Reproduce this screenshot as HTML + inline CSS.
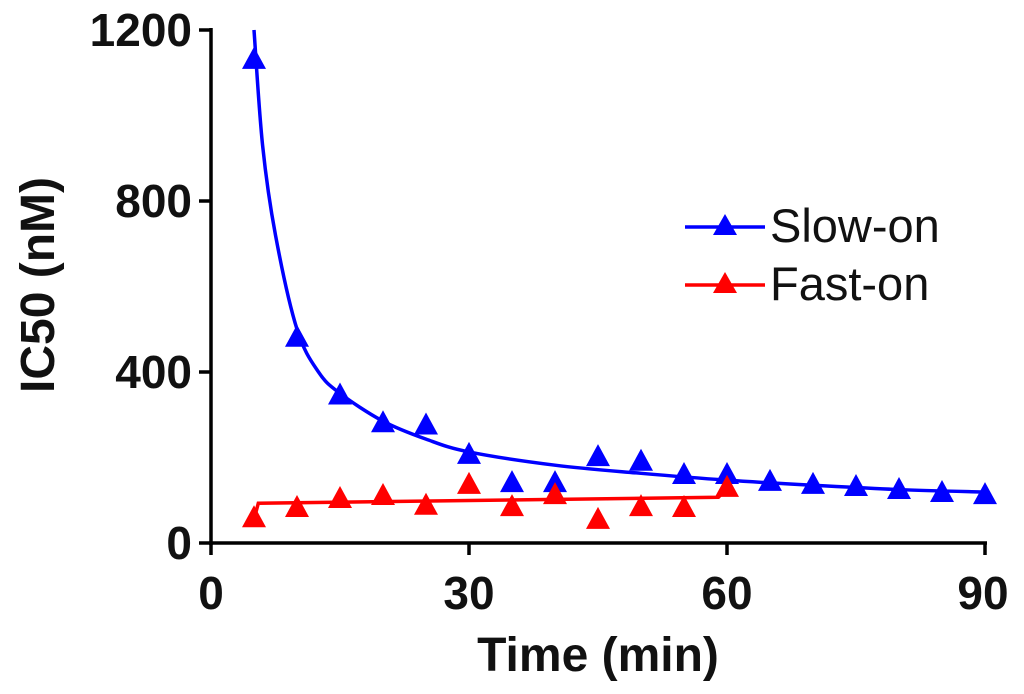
<!DOCTYPE html>
<html><head><meta charset="utf-8"><style>
html,body{margin:0;padding:0;background:#fff;}
svg text{font-family:"Liberation Sans",Arial,sans-serif;}
</style></head><body>
<svg id="s" width="1024" height="689" viewBox="0 0 1024 689" xmlns="http://www.w3.org/2000/svg">
<g stroke="#000" stroke-width="3.5" fill="none">
<line x1="211" y1="28" x2="211" y2="545"/>
<line x1="209" y1="543" x2="987" y2="543"/>
<line x1="199" y1="30" x2="211" y2="30"/>
<line x1="199" y1="201" x2="211" y2="201"/>
<line x1="199" y1="372" x2="211" y2="372"/>
<line x1="199" y1="543" x2="211" y2="543"/>
<line x1="211" y1="543" x2="211" y2="555"/>
<line x1="469" y1="543" x2="469" y2="555"/>
<line x1="727" y1="543" x2="727" y2="555"/>
<line x1="985" y1="543" x2="985" y2="555"/>
</g>
<g font-size="46" font-weight="bold" text-anchor="end" fill="#111">
<text x="192" y="46">1200</text>
<text x="192" y="217">800</text>
<text x="192" y="388">400</text>
<text x="192" y="559">0</text>
</g>
<g font-size="46" font-weight="bold" text-anchor="middle" fill="#111">
<text x="211" y="609">0</text>
<text x="469" y="609">30</text>
<text x="727" y="609">60</text>
<text x="983" y="609">90</text>
<text x="598" y="671" font-size="48">Time (min)</text>
<text transform="translate(54,285) rotate(-90)" font-size="48">IC50 (nM)</text>
</g>
<g id="d"></g>
<line x1="685" y1="227" x2="765" y2="227" stroke="#0000ff" stroke-width="3.5"/>
<polygon points="725,214 737,235 713,235" fill="#0000ff"/>
<text x="770" y="242" font-size="47" fill="#111">Slow-on</text>
<line x1="685" y1="285" x2="765" y2="285" stroke="#ff0000" stroke-width="3.5"/>
<polygon points="725,272 737,293 713,293" fill="#ff0000"/>
<text x="770" y="300" font-size="47" fill="#111">Fast-on</text>
</svg>
<script>
var X=t=>211+t*8.6, Y=v=>543-v*0.4275;
var g=document.getElementById('d'), ns='http://www.w3.org/2000/svg';
function el(n,a){var e=document.createElementNS(ns,n);for(var k in a)e.setAttribute(k,a[k]);g.appendChild(e);}
var k=[[5,1200],[6,930],[7.5,720],[10,500],[12.5,400],[15,350],[20,285],[25,243],[30,213],[40,182],[50,163],[60,147],[70,135],[80,125],[90,119]];
var p=k.map(a=>[X(a[0]),Y(a[1])]);
var d='M'+p[0][0]+','+p[0][1];
for(var i=0;i<p.length-1;i++){var p0=p[Math.max(0,i-1)],p1=p[i],p2=p[i+1],p3=p[Math.min(p.length-1,i+2)];
d+=' C'+(p1[0]+(p2[0]-p0[0])/6)+','+(p1[1]+(p2[1]-p0[1])/6)+' '+(p2[0]-(p3[0]-p1[0])/6)+','+(p2[1]-(p3[1]-p1[1])/6)+' '+p2[0]+','+p2[1];}
el('path',{d:d,stroke:'#0000ff','stroke-width':3.5,fill:'none'});
el('polyline',{points:X(5)+','+Y(55)+' '+X(5.5)+','+Y(93)+' '+X(59)+','+Y(107)+' '+X(60)+','+Y(128),stroke:'#ff0000','stroke-width':3.5,fill:'none'});
function tri(t,v,c){var x=X(t),y=Y(v);el('polygon',{points:x+','+(y-13)+' '+(x+12)+','+(y+9)+' '+(x-12)+','+(y+9),fill:c});}
var b=[[5,1130],[10,480],[15,345],[20,280],[25,275],[30,206],[35,140],[40,140],[45,201],[50,190],[55,159],[60,159],[65,143],[70,136],[75,131],[80,124],[85,117],[90,112]];
var r=[[5,58],[10,82],[15,103],[20,110],[25,87],[30,136],[35,84],[40,112],[45,54],[50,84],[55,82],[60,129]];
b.forEach(a=>tri(a[0],a[1],'#0000ff'));
r.forEach(a=>tri(a[0],a[1],'#ff0000'));
</script>
</body></html>
